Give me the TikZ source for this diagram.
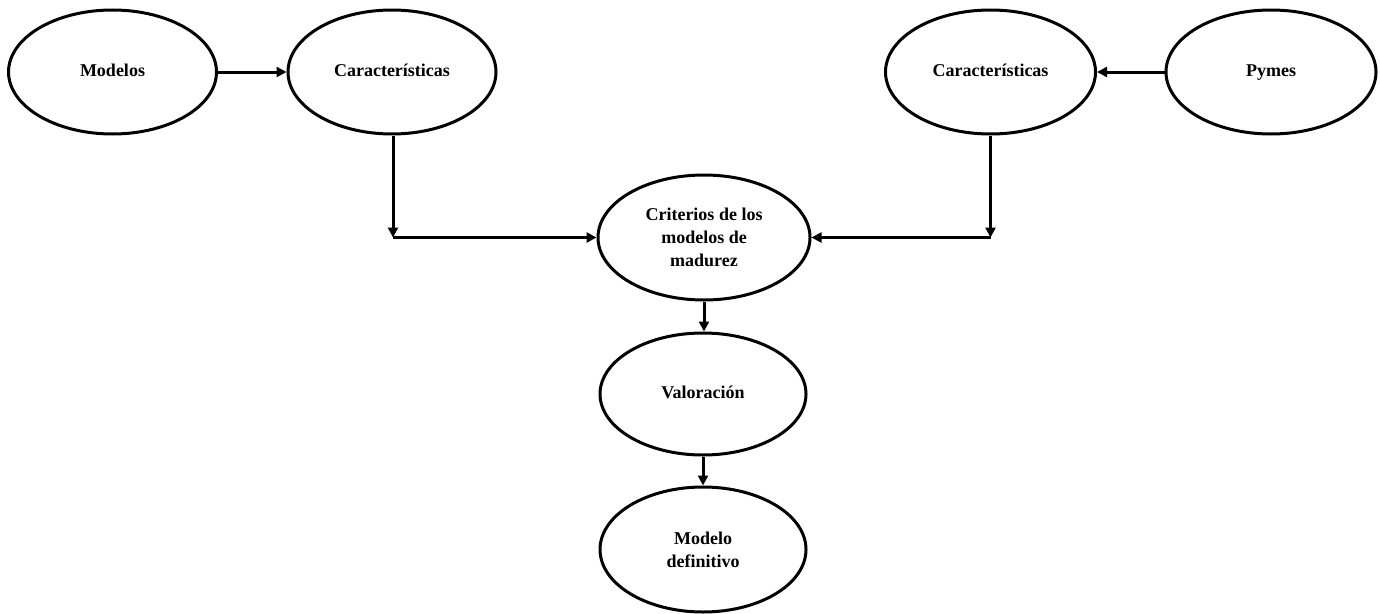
\documentclass[tikz,border=0pt]{standalone}
\usepackage{fontspec}
\setmainfont{Liberation Serif}
\usetikzlibrary{shapes.geometric,arrows.meta}
\begin{document}
\begin{tikzpicture}[x=1pt,y=-1pt,
  bubble/.style={ellipse,draw,line width=3pt,inner sep=0pt,
    minimum width=208pt,minimum height=124pt,align=center,
    font=\fontsize{18}{23}\selectfont\bfseries},
  link/.style={line width=3pt,-{Triangle[length=10pt,width=10pt]}}]
\useasboundingbox (0,0) rectangle (1380,613);
% top row
\node[bubble] (mod) at (112.5,72) {\strut Modelos};
\node[bubble] (carL) at (392,72) {\strut Características};
\node[bubble,minimum width=210pt] (carR) at (990.5,72) {\strut Características};
\node[bubble,minimum width=210pt] (pym) at (1271,72) {\strut Pymes};
% central column
\node[bubble,minimum width=212pt,minimum height=125pt] (crit) at (704,237.5) {Criterios de los\\modelos de\\madurez};
\node[bubble,minimum width=206pt,minimum height=122pt] (val) at (703,394) {\strut Valoración};
\node[bubble,minimum width=206pt,minimum height=125pt] (def) at (703,549.5) {Modelo\\definitivo};
% junction points
\coordinate (jL) at (393,237.5);
\coordinate (jR) at (990.5,237.5);
% connectors
\draw[link] (mod.east) -- (carL.west);
\draw[link] (pym.west) -- (carR.east);
\draw[link] (carL.south -| jL) -- (jL);
\draw[link] (carR.south) -- (jR);
\draw[link] (jL) -- (crit.west);
\draw[link] (jR) -- (crit.east);
\draw[link] (crit.south) -- (val.north -| crit.south);
\draw[link] (val.south) -- (def.north);
\end{tikzpicture}
\end{document}
